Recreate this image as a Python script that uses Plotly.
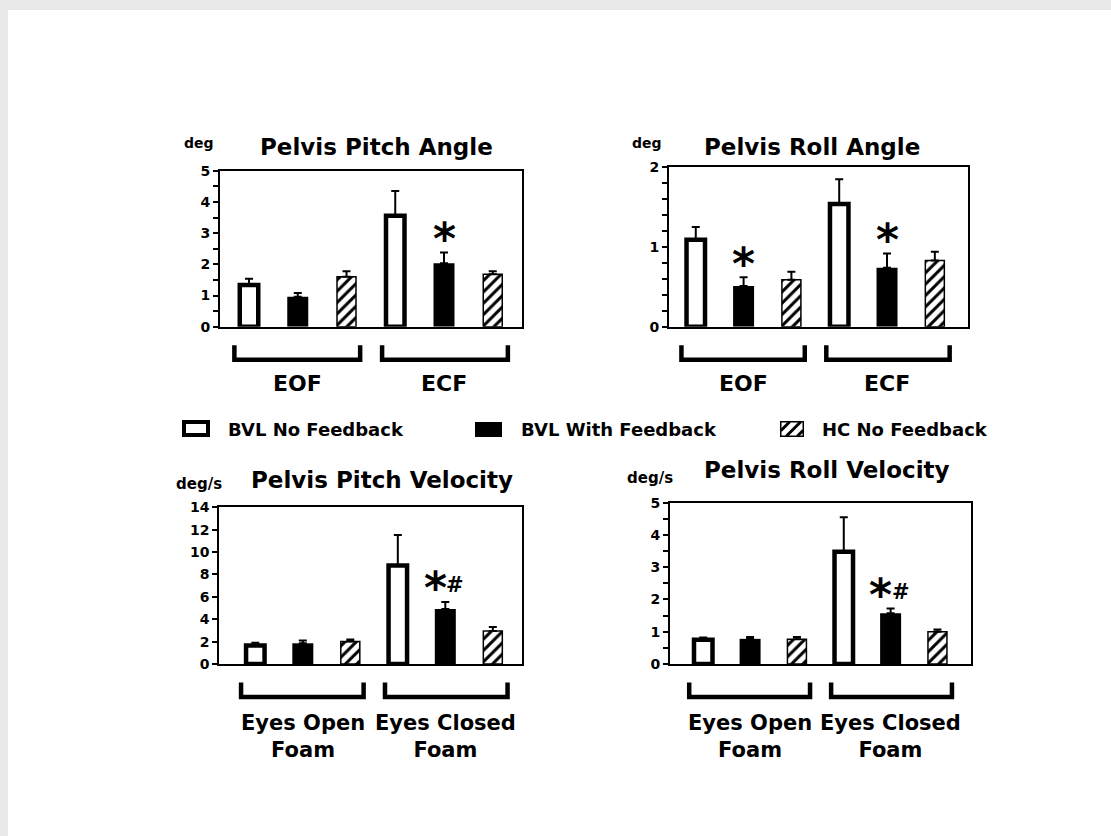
import plotly.graph_objects as go

W, H = 1111, 836
FONT = "DejaVu Sans"

# ---------------- data ----------------
SERIES = ["BVL No Feedback", "BVL With Feedback", "HC No Feedback"]
COND_SHORT = ["EOF", "ECF"]
COND_LONG = ["Eyes Open<br>Foam", "Eyes Closed<br>Foam"]

# Pelvis pitch angle (deg), [EOF, ECF]
pitch_angle_no_fb = [1.34, 3.56]
pitch_angle_no_fb_err = [0.20, 0.79]
pitch_angle_with_fb = [0.96, 2.03]
pitch_angle_with_fb_err = [0.12, 0.35]
pitch_angle_hc = [1.60, 1.68]
pitch_angle_hc_err = [0.18, 0.10]
pitch_angle_marks = ["", "*"]

# Pelvis roll angle (deg)
roll_angle_no_fb = [1.09, 1.54]
roll_angle_no_fb_err = [0.16, 0.31]
roll_angle_with_fb = [0.51, 0.74]
roll_angle_with_fb_err = [0.11, 0.18]
roll_angle_hc = [0.59, 0.83]
roll_angle_hc_err = [0.10, 0.11]
roll_angle_marks = ["*", "*"]

# Pelvis pitch velocity (deg/s)
pitch_vel_no_fb = [1.65, 8.80]
pitch_vel_no_fb_err = [0.25, 2.73]
pitch_vel_with_fb = [1.85, 4.92]
pitch_vel_with_fb_err = [0.25, 0.62]
pitch_vel_hc = [2.00, 2.95]
pitch_vel_hc_err = [0.20, 0.36]
pitch_vel_marks = ["", "*#"]

# Pelvis roll velocity (deg/s)
roll_vel_no_fb = [0.75, 3.48]
roll_vel_no_fb_err = [0.07, 1.07]
roll_vel_with_fb = [0.78, 1.57]
roll_vel_with_fb_err = [0.06, 0.15]
roll_vel_hc = [0.77, 1.00]
roll_vel_hc_err = [0.07, 0.07]
roll_vel_marks = ["", "*#"]


def fx(px):
    return px / W


def fy(py):
    return 1 - py / H


panels = [
    dict(title="Pelvis Pitch Angle", unit="deg", box=(220, 170.7, 522, 326.7),
         xr=(-0.595, 5.6), yr=(0, 5), dtick=1, minor=0.5,
         data=[(pitch_angle_no_fb, pitch_angle_no_fb_err),
               (pitch_angle_with_fb, pitch_angle_with_fb_err),
               (pitch_angle_hc, pitch_angle_hc_err)],
         marks=pitch_angle_marks, labels=COND_SHORT,
         title_xy=(376.7, 147), unit_xy=(199.3, 143.3), unit_size=14),
    dict(title="Pelvis Roll Angle", unit="deg", box=(669, 167.3, 968.3, 326.7),
         xr=(-0.56, 5.70), yr=(0, 2), dtick=1, minor=0.2,
         data=[(roll_angle_no_fb, roll_angle_no_fb_err),
               (roll_angle_with_fb, roll_angle_with_fb_err),
               (roll_angle_hc, roll_angle_hc_err)],
         marks=roll_angle_marks, labels=COND_SHORT,
         title_xy=(811.7, 147), unit_xy=(646.7, 143.3), unit_size=14),
    dict(title="Pelvis Pitch Velocity", unit="deg/s", box=(219.3, 507.3, 521.7, 664),
         xr=(-0.758, 5.608), yr=(0, 14), dtick=2, minor=None,
         data=[(pitch_vel_no_fb, pitch_vel_no_fb_err),
               (pitch_vel_with_fb, pitch_vel_with_fb_err),
               (pitch_vel_hc, pitch_vel_hc_err)],
         marks=pitch_vel_marks, labels=COND_LONG,
         title_xy=(381.7, 480), unit_xy=(199.3, 484.3), unit_size=15),
    dict(title="Pelvis Roll Velocity", unit="deg/s", box=(670, 502.7, 970.7, 664),
         xr=(-0.71, 5.71), yr=(0, 5), dtick=1, minor=0.5,
         data=[(roll_vel_no_fb, roll_vel_no_fb_err),
               (roll_vel_with_fb, roll_vel_with_fb_err),
               (roll_vel_hc, roll_vel_hc_err)],
         marks=roll_vel_marks, labels=COND_LONG,
         title_xy=(826.7, 470), unit_xy=(650, 478.3), unit_size=15),
]

# bar geometry in pixels: (drawn width, outline width)
BAR_PX = [(18.5, 4.5), (21, 0), (19, 1.5)]
BRACKETS = [(-0.3, 2.28), (2.73, 5.31)]

fig = go.Figure()
layout = dict(width=W, height=H, autosize=False,
              margin=dict(l=0, r=0, t=0, b=0, pad=0, autoexpand=False),
              paper_bgcolor="#e9e9e9", plot_bgcolor="white",
              barmode="overlay", showlegend=False,
              font=dict(family=FONT, color="black", weight="bold"))
shapes = []
annotations = []

# white page area
shapes.append(dict(type="rect", xref="paper", yref="paper", layer="below",
                   x0=fx(8), x1=1, y0=0, y1=fy(10),
                   fillcolor="white", line=dict(width=0)))


def bold(size):
    return dict(family=FONT, size=size, color="black", weight="bold")


for i, p in enumerate(panels, start=1):
    sfx = "" if i == 1 else str(i)
    xref, yref = "x" + sfx, "y" + sfx
    l, t, r, b = p["box"]
    unit = (r - l) / (p["xr"][1] - p["xr"][0])

    layout["xaxis" + sfx] = dict(
        domain=[fx(l), fx(r)], range=list(p["xr"]), anchor=yref,
        showticklabels=False, ticks="", showgrid=False, zeroline=False,
        showline=True, mirror=True, linecolor="black", linewidth=2,
        fixedrange=True, automargin=False)
    yax = dict(
        domain=[fy(b), fy(t)], range=list(p["yr"]), anchor=xref,
        tick0=0, dtick=p["dtick"], ticks="outside", ticklen=5, tickwidth=2,
        tickcolor="black", showgrid=False, zeroline=False,
        showline=True, mirror=True, linecolor="black", linewidth=2,
        tickfont=bold(14), fixedrange=True, automargin=False)
    if p["minor"]:
        yax["minor"] = dict(dtick=p["minor"], tick0=0, ticks="outside", ticklen=5,
                            tickwidth=2, tickcolor="black", showgrid=False)
    layout["yaxis" + sfx] = yax

    for s, (vals, errs) in enumerate(p["data"]):
        bw, lw = BAR_PX[s]
        xs = [3 * g + s for g in range(len(vals))]
        if s == 0:
            marker = dict(color="white", line=dict(color="black", width=lw))
        elif s == 1:
            marker = dict(color="black", line=dict(color="black", width=lw))
        else:
            marker = dict(color="white", line=dict(color="black", width=lw),
                          pattern=dict(shape="/", fgcolor="black", bgcolor="white",
                                       size=8, solidity=0.38, fillmode="replace"))
        fig.add_trace(go.Bar(
            x=xs, y=vals, width=bw / unit, name=SERIES[s], marker=marker,
            error_y=dict(type="data", array=errs, arrayminus=[0] * len(errs),
                         symmetric=False, color="black", thickness=2, width=4),
            xaxis=xref, yaxis=yref, cliponaxis=False, showlegend=False))

    # significance markers above the feedback bars
    with_vals, with_errs = p["data"][1]
    for g, mark in enumerate(p["marks"]):
        if not mark:
            continue
        top = with_vals[g] + with_errs[g]
        if mark == "*":
            annotations.append(dict(x=3 * g + 1, y=top, xref=xref, yref=yref,
                                    text="*", showarrow=False, yanchor="middle",
                                    yshift=14, font=bold(44)))
        else:
            annotations.append(dict(x=3 * g + 1, y=top, xref=xref, yref=yref,
                                    text="*", showarrow=False, yanchor="middle",
                                    xshift=-10, yshift=14, font=bold(44)))
            annotations.append(dict(x=3 * g + 1, y=top, xref=xref, yref=yref,
                                    text="#", showarrow=False, yanchor="middle",
                                    xshift=10, yshift=17, font=bold(21)))

    # condition brackets under the axis
    y_top, y_bot = fy(b + 18.5), fy(b + 33)
    for x0, x1 in BRACKETS:
        shapes.append(dict(type="path", xref=xref, yref="paper",
                           path=f"M{x0},{y_top} L{x0},{y_bot} L{x1},{y_bot} L{x1},{y_top}",
                           line=dict(color="black", width=4.5)))

    long_labels = "<br>" in p["labels"][0]
    for g, lab in enumerate(p["labels"]):
        annotations.append(dict(x=3 * g + 1, xref=xref, yref="paper",
                                y=fy(b + (72 if long_labels else 56.6)),
                                text=lab, showarrow=False, yanchor="middle",
                                font=bold(21 if long_labels else 22)))

    tx, ty = p["title_xy"]
    annotations.append(dict(x=fx(tx), y=fy(ty), xref="paper", yref="paper",
                            text=p["title"], showarrow=False,
                            xanchor="center", yanchor="middle", font=bold(23)))
    ux, uy = p["unit_xy"]
    annotations.append(dict(x=fx(ux), y=fy(uy), xref="paper", yref="paper",
                            text=p["unit"], showarrow=False,
                            xanchor="center", yanchor="middle", font=bold(p["unit_size"])))

# ---------------- legend row ----------------
# open key
shapes.append(dict(type="rect", xref="paper", yref="paper",
                   x0=fx(184), x1=fx(208), y0=fy(435), y1=fy(422),
                   fillcolor="white", line=dict(color="black", width=4)))
# filled key
shapes.append(dict(type="rect", xref="paper", yref="paper",
                   x0=fx(475), x1=fx(502), y0=fy(437), y1=fy(422),
                   fillcolor="black", line=dict(width=0)))
# hatched key
hx0, hx1, hy0, hy1 = 780.75, 803.25, 421.75, 436.25
shapes.append(dict(type="rect", xref="paper", yref="paper",
                   x0=fx(hx0), x1=fx(hx1), y0=fy(hy1), y1=fy(hy0),
                   fillcolor="white", line=dict(color="black", width=1.5)))
for k in (hx0 + hy0 + 9, hx0 + hy0 + 20, hx0 + hy0 + 31):
    xa = max(hx0, k - hy1)
    xb = min(hx1, k - hy0)
    shapes.append(dict(type="line", xref="paper", yref="paper",
                       x0=fx(xa), y0=fy(k - xa), x1=fx(xb), y1=fy(k - xb),
                       line=dict(color="black", width=3)))

for name, x0 in zip(SERIES, (226, 519, 820)):
    annotations.append(dict(x=fx(x0), y=fy(429.5), xref="paper", yref="paper",
                            text=name, showarrow=False, xanchor="left",
                            yanchor="middle", font=bold(18)))

layout["shapes"] = shapes
layout["annotations"] = annotations
fig.update_layout(**layout)
fig.write_html(
    "out.html",
    config={"displayModeBar": False},
    post_script="document.body.style.margin='0';document.body.style.overflow='hidden';",
)
